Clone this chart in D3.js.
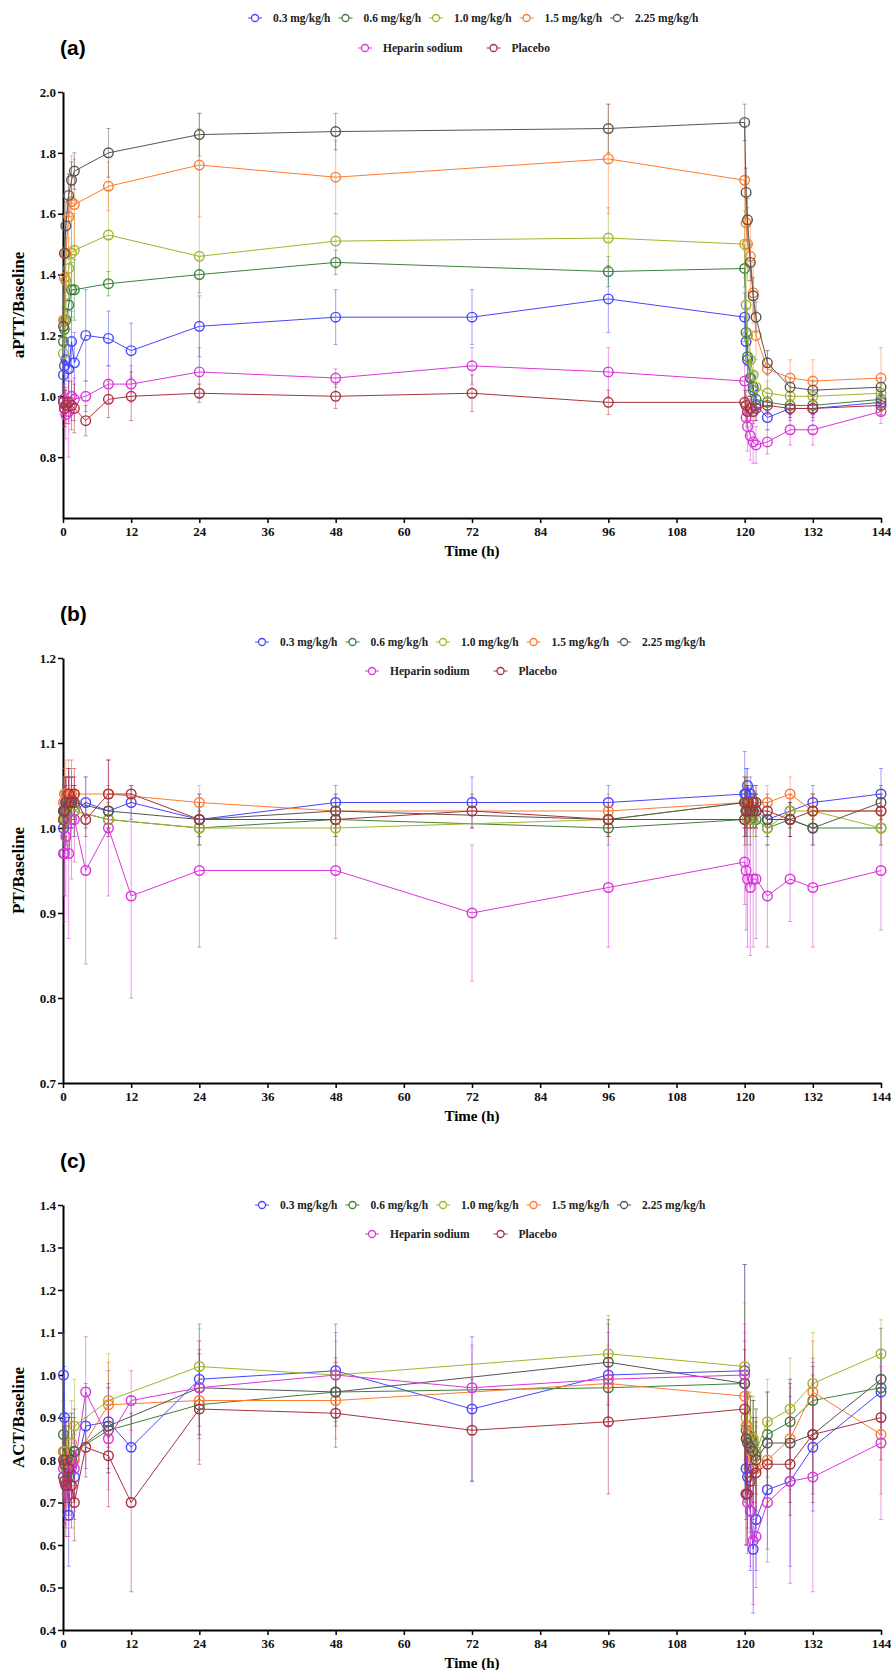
<!DOCTYPE html>
<html>
<head>
<meta charset="utf-8">
<script src="https://cdn.jsdelivr.net/npm/d3@7"></script>
<style>
  body { margin: 0; background: #fff; }
  text { font-family: "Liberation Serif", "Times New Roman", serif; font-weight: bold; }
</style>
</head>
<body>
<script>
// sampling times (h)
const times = [0.083, 0.25, 0.5, 1, 1.5, 2, 4, 8, 12, 24, 48, 72, 96, 120, 120.25, 120.5, 121, 121.5, 122, 124, 128, 132, 144];
const xTicks = [0, 12, 24, 36, 48, 60, 72, 84, 96, 108, 120, 132, 144];

const seriesNames = ["0.3 mg/kg/h", "0.6 mg/kg/h", "1.0 mg/kg/h", "1.5 mg/kg/h", "2.25 mg/kg/h", "Heparin sodium", "Placebo"];
const seriesColors = ["#4646ff", "#3c803c", "#a2b52a", "#ff7a2e", "#555555", "#d936d9", "#a8323c"];

// (a) aPTT / baseline
const aptt03 = [1.07, 1.10, 1.12, 1.09, 1.18, 1.11, 1.20, 1.19, 1.15, 1.23, 1.26, 1.26, 1.32, 1.26, 1.18, 1.12, 1.06, 1.03, 0.97, 0.93, 0.96, 0.96, 0.98];
const aptt06 = [1.18, 1.22, 1.25, 1.30, 1.35, 1.35, null, 1.37, null, 1.40, 1.44, null, 1.41, 1.42, 1.21, 1.13, 1.06, 1.02, 0.99, 0.98, 0.97, 0.97, 0.99];
const aptt10 = [1.14, 1.25, 1.38, 1.42, 1.47, 1.48, null, 1.53, null, 1.46, 1.51, null, 1.52, 1.50, 1.30, 1.20, 1.12, 1.07, 1.03, 1.01, 1.00, 1.00, 1.01];
const aptt15 = [1.25, 1.39, 1.47, 1.59, 1.64, 1.63, null, 1.69, null, 1.76, 1.72, null, 1.78, 1.71, 1.57, 1.50, 1.46, 1.34, 1.20, 1.09, 1.06, 1.05, 1.06];
const aptt225 = [1.23, 1.47, 1.56, 1.66, 1.71, 1.74, null, 1.80, null, 1.86, 1.87, null, 1.88, 1.90, 1.67, 1.58, 1.44, 1.33, 1.26, 1.11, 1.03, 1.02, 1.03];
const apttHep = [0.99, 0.96, 0.94, 0.95, 1.00, 0.99, 1.00, 1.04, 1.04, 1.08, 1.06, 1.10, 1.08, 1.05, 0.93, 0.90, 0.87, 0.85, 0.84, 0.85, 0.89, 0.89, 0.95];
const apttPla = [0.98, 0.96, 0.97, 0.98, 0.97, 0.96, 0.92, 0.99, 1.00, 1.01, 1.00, 1.01, 0.98, 0.98, 0.97, 0.95, 0.96, 0.95, 0.96, 0.97, 0.96, 0.96, 0.97];

const aptt03Sd = [0.05, 0.06, 0.07, 0.08, 0.10, 0.10, 0.15, 0.09, 0.09, 0.10, 0.09, 0.09, 0.11, 0.08, 0.08, 0.07, 0.06, 0.05, 0.05, 0.04, 0.04, 0.04, 0.03];
const aptt06Sd = [0.05, 0.06, 0.07, 0.08, 0.09, 0.10, null, 0.04, null, 0.06, 0.04, null, 0.05, 0.06, 0.08, 0.07, 0.06, 0.05, 0.04, 0.03, 0.03, 0.03, 0.03];
const aptt10Sd = [0.06, 0.08, 0.10, 0.10, 0.12, 0.12, null, 0.15, null, 0.42, 0.09, null, 0.10, 0.11, 0.10, 0.09, 0.08, 0.06, 0.05, 0.04, 0.03, 0.03, 0.03];
const aptt15Sd = [0.08, 0.10, 0.12, 0.14, 0.15, 0.15, null, 0.08, null, 0.17, 0.12, null, 0.18, 0.20, 0.15, 0.12, 0.12, 0.10, 0.08, 0.06, 0.06, 0.07, 0.10];
const aptt225Sd = [0.06, 0.08, 0.08, 0.07, 0.06, 0.06, null, 0.08, null, 0.07, 0.06, null, 0.08, 0.06, 0.08, 0.07, 0.06, 0.06, 0.05, 0.04, 0.03, 0.03, 0.03];
const apttHepSd = [0.05, 0.06, 0.08, 0.15, 0.08, 0.07, 0.05, 0.06, 0.06, 0.08, 0.03, 0.06, 0.08, 0.06, 0.06, 0.08, 0.08, 0.07, 0.06, 0.04, 0.05, 0.05, 0.04];
const apttPlaSd = [0.05, 0.06, 0.06, 0.07, 0.08, 0.08, 0.05, 0.06, 0.08, 0.03, 0.04, 0.06, 0.04, 0.04, 0.05, 0.05, 0.04, 0.04, 0.04, 0.03, 0.03, 0.03, 0.03];

// (b) PT / baseline
const pt03 = [1.00, 1.02, 1.03, 1.04, 1.03, 1.02, 1.03, 1.02, 1.03, 1.01, 1.03, 1.03, 1.03, 1.04, 1.04, 1.05, 1.04, 1.03, 1.02, 1.01, 1.02, 1.03, 1.04];
const pt06 = [1.02, 1.01, 1.02, 1.03, 1.03, 1.02, null, 1.01, null, 1.00, 1.01, null, 1.00, 1.01, 1.02, 1.02, 1.01, 1.02, 1.01, 1.00, 1.01, 1.00, 1.00];
const pt10 = [1.01, 1.01, 1.01, 1.02, 1.03, 1.02, null, 1.01, null, 1.00, 1.00, null, 1.01, 1.03, 1.02, 1.01, 1.02, 1.01, 1.02, 1.00, 1.02, 1.02, 1.00];
const pt15 = [1.03, 1.04, 1.04, 1.04, 1.04, 1.04, null, 1.04, null, 1.03, 1.02, null, 1.02, 1.03, 1.03, 1.03, 1.02, 1.03, 1.03, 1.03, 1.04, 1.02, 1.02];
const pt225 = [1.02, 1.02, 1.03, 1.03, 1.03, 1.03, null, 1.02, null, 1.01, 1.02, null, 1.01, 1.03, 1.02, 1.03, 1.02, 1.02, 1.03, 1.01, 1.01, 1.00, 1.03];
const ptHep = [0.97, 0.97, 0.99, 0.97, 1.01, 1.01, 0.95, 1.00, 0.92, 0.95, 0.95, 0.90, 0.93, 0.96, 0.95, 0.94, 0.93, 0.94, 0.94, 0.92, 0.94, 0.93, 0.95];
const ptPla = [1.01, 1.02, 1.03, 1.04, 1.03, 1.04, 1.01, 1.04, 1.04, 1.01, 1.01, 1.02, 1.01, 1.01, 1.02, 1.03, 1.02, 1.03, 1.02, 1.02, 1.01, 1.02, 1.02];

const pt03Sd = [0.02, 0.03, 0.03, 0.03, 0.03, 0.03, 0.03, 0.03, 0.02, 0.03, 0.02, 0.03, 0.02, 0.05, 0.03, 0.02, 0.02, 0.02, 0.02, 0.02, 0.02, 0.02, 0.03];
const pt06Sd = [0.02, 0.03, 0.03, 0.03, 0.03, 0.03, null, 0.02, null, 0.02, 0.02, null, 0.02, 0.03, 0.03, 0.03, 0.03, 0.02, 0.02, 0.02, 0.02, 0.02, 0.02];
const pt10Sd = [0.02, 0.03, 0.04, 0.04, 0.03, 0.03, null, 0.02, null, 0.02, 0.02, null, 0.02, 0.03, 0.04, 0.03, 0.03, 0.02, 0.02, 0.02, 0.02, 0.02, 0.02];
const pt15Sd = [0.03, 0.03, 0.04, 0.04, 0.03, 0.02, null, 0.04, null, 0.02, 0.02, null, 0.02, 0.03, 0.03, 0.03, 0.02, 0.02, 0.02, 0.02, 0.02, 0.02, 0.02];
const pt225Sd = [0.02, 0.03, 0.03, 0.03, 0.02, 0.02, null, 0.02, null, 0.02, 0.02, null, 0.02, 0.03, 0.03, 0.02, 0.02, 0.02, 0.02, 0.02, 0.02, 0.02, 0.02];
const ptHepSd = [0.05, 0.08, 0.07, 0.10, 0.07, 0.05, 0.11, 0.08, 0.12, 0.09, 0.08, 0.08, 0.07, 0.05, 0.07, 0.08, 0.08, 0.08, 0.07, 0.06, 0.05, 0.07, 0.07];
const ptPlaSd = [0.02, 0.03, 0.03, 0.03, 0.03, 0.03, 0.02, 0.04, 0.01, 0.02, 0.02, 0.02, 0.02, 0.02, 0.02, 0.02, 0.02, 0.02, 0.02, 0.02, 0.02, 0.02, 0.02];

// (c) ACT / baseline
const act03 = [1.00, 0.90, 0.79, 0.67, 0.81, 0.76, 0.88, 0.89, 0.83, 0.99, 1.01, 0.92, 1.00, 1.01, 0.78, 0.76, 0.68, 0.59, 0.66, 0.73, 0.75, 0.83, 0.96];
const act06 = [0.86, 0.82, 0.79, 0.76, 0.81, 0.82, null, 0.87, null, 0.93, 0.96, null, 0.97, 0.98, 0.87, 0.86, 0.85, 0.84, 0.81, 0.86, 0.89, 0.94, 0.97];
const act10 = [0.82, 0.80, 0.78, 0.80, 0.84, 0.88, null, 0.94, null, 1.02, 1.00, null, 1.05, 1.02, 0.90, 0.88, 0.86, 0.85, 0.82, 0.89, 0.92, 0.98, 1.05];
const act15 = [0.82, 0.80, 0.79, 0.80, 0.79, 0.80, null, 0.93, null, 0.94, 0.94, null, 0.98, 0.95, 0.88, 0.85, 0.82, 0.80, 0.78, 0.80, 0.85, 0.96, 0.86];
const act225 = [0.76, 0.79, 0.80, 0.78, 0.80, 0.82, null, 0.88, null, 0.97, 0.96, null, 1.03, 0.98, 0.85, 0.84, 0.83, 0.82, 0.80, 0.84, 0.84, 0.86, 0.99];
const actHep = [0.78, 0.75, 0.74, 0.72, 0.79, 0.78, 0.96, 0.85, 0.94, 0.97, 1.00, 0.97, 0.99, 1.00, 0.72, 0.70, 0.68, 0.61, 0.62, 0.70, 0.75, 0.76, 0.84];
const actPla = [0.80, 0.75, 0.74, 0.78, 0.74, 0.70, 0.83, 0.81, 0.70, 0.92, 0.91, 0.87, 0.89, 0.92, 0.72, 0.72, 0.75, 0.78, 0.77, 0.79, 0.79, 0.86, 0.90];

const act03Sd = [0.10, 0.12, 0.12, 0.12, 0.10, 0.10, 0.10, 0.12, 0.12, 0.13, 0.11, 0.17, 0.12, 0.25, 0.12, 0.12, 0.14, 0.15, 0.12, 0.14, 0.20, 0.15, 0.10];
const act06Sd = [0.08, 0.09, 0.09, 0.09, 0.08, 0.08, null, 0.10, null, 0.08, 0.07, null, 0.08, 0.10, 0.09, 0.09, 0.10, 0.10, 0.09, 0.10, 0.10, 0.10, 0.08];
const act10Sd = [0.08, 0.09, 0.10, 0.10, 0.10, 0.11, null, 0.11, null, 0.09, 0.08, null, 0.09, 0.15, 0.12, 0.10, 0.10, 0.10, 0.10, 0.10, 0.12, 0.12, 0.08];
const act15Sd = [0.08, 0.09, 0.10, 0.10, 0.10, 0.10, null, 0.10, null, 0.14, 0.09, null, 0.09, 0.15, 0.12, 0.11, 0.10, 0.10, 0.10, 0.10, 0.12, 0.12, 0.14];
const act225Sd = [0.08, 0.09, 0.10, 0.10, 0.10, 0.10, null, 0.10, null, 0.09, 0.08, null, 0.10, 0.28, 0.14, 0.12, 0.12, 0.12, 0.12, 0.12, 0.14, 0.16, 0.12];
const actHepSd = [0.08, 0.10, 0.10, 0.10, 0.12, 0.10, 0.13, 0.12, 0.07, 0.11, 0.10, 0.10, 0.11, 0.12, 0.12, 0.12, 0.13, 0.15, 0.12, 0.14, 0.24, 0.27, 0.18];
const actPlaSd = [0.08, 0.10, 0.12, 0.12, 0.10, 0.09, 0.07, 0.12, 0.21, 0.13, 0.08, 0.12, 0.17, 0.14, 0.12, 0.12, 0.12, 0.12, 0.12, 0.10, 0.12, 0.14, 0.10];

const svg = d3.select("body").append("svg").attr("width", 891).attr("height", 1670);

const x = d3.scaleLinear().domain([0, 144]).range([63, 881]);

function drawPanel(p) {
  const y = d3.scaleLinear().domain(p.domain).range([p.bottom, p.top]);
  const g = svg.append("g");

  // panel letter
  g.append("text")
    .attr("x", 60).attr("y", p.top - 37)
    .style("font-family", "'Liberation Sans', Arial, sans-serif")
    .style("font-size", "21px")
    .text(p.letter);

  // legend
  drawLegend(g, p.legendY[0], 248 + p.legendDx, [0, 1, 2, 3, 4]);
  drawLegend(g, p.legendY[1], 358 + p.legendDx, [5, 6]);

  // axes
  const yAxis = g.append("g")
    .attr("transform", `translate(${x(0)},0)`)
    .call(d3.axisLeft(y).tickValues(p.ticks).tickFormat(d3.format(".1f")).tickSize(5).tickSizeOuter(0).tickPadding(2));
  const xAxis = g.append("g")
    .attr("transform", `translate(0,${p.bottom})`)
    .call(d3.axisBottom(x).tickValues(xTicks).tickSize(5).tickSizeOuter(0).tickPadding(4));
  [yAxis, xAxis].forEach(a => {
    a.select(".domain").attr("stroke-width", 2);
    a.selectAll(".tick line").attr("stroke-width", 1.5);
    a.selectAll(".tick text")
      .style("font-family", "'Liberation Serif', 'Times New Roman', serif")
      .style("font-weight", "bold")
      .style("font-size", "13px")
      .attr("fill", "#111");
  });

  g.append("text")
    .attr("transform", `translate(24,${(p.top + p.bottom) / 2}) rotate(-90)`)
    .attr("text-anchor", "middle")
    .style("font-size", "17px")
    .text(p.yLabel);

  g.append("text")
    .attr("x", (x(0) + x(144)) / 2).attr("y", p.bottom + 38)
    .attr("text-anchor", "middle")
    .style("font-size", "15px")
    .text("Time (h)");

  // error bars
  p.means.forEach((m, si) => {
    const col = seriesColors[si];
    const pts = times.map((t, i) => ({ t, v: m[i], sd: p.sds[si][i] })).filter(d => d.v != null);
    const sg = g.append("g");

    sg.selectAll("line.err").data(pts).join("line")
      .attr("x1", d => x(d.t)).attr("x2", d => x(d.t))
      .attr("y1", d => y(d.v - d.sd)).attr("y2", d => y(d.v + d.sd))
      .attr("stroke", col).attr("stroke-opacity", 0.5).attr("stroke-width", 1);
    sg.selectAll("line.capTop").data(pts).join("line")
      .attr("x1", d => x(d.t) - 2).attr("x2", d => x(d.t) + 2)
      .attr("y1", d => y(d.v + d.sd)).attr("y2", d => y(d.v + d.sd))
      .attr("stroke", col).attr("stroke-opacity", 0.5);
    sg.selectAll("line.capBot").data(pts).join("line")
      .attr("x1", d => x(d.t) - 2).attr("x2", d => x(d.t) + 2)
      .attr("y1", d => y(d.v - d.sd)).attr("y2", d => y(d.v - d.sd))
      .attr("stroke", col).attr("stroke-opacity", 0.5);
  });

  // lines + open circles
  p.means.forEach((m, si) => {
    const col = seriesColors[si];
    const pts = times.map((t, i) => ({ t, v: m[i] })).filter(d => d.v != null);
    g.append("path")
      .datum(pts)
      .attr("fill", "none")
      .attr("stroke", col)
      .attr("stroke-width", 1)
      .attr("d", d3.line().x(d => x(d.t)).y(d => y(d.v)));
    g.append("g").selectAll("circle").data(pts).join("circle")
      .attr("cx", d => x(d.t)).attr("cy", d => y(d.v))
      .attr("r", 4.8)
      .attr("fill", "none")
      .attr("stroke", col)
      .attr("stroke-width", 1.4);
  });
}

function drawLegend(g, yy, startX, idx) {
  let cx = startX;
  idx.forEach(i => {
    const col = seriesColors[i];
    g.append("line")
      .attr("x1", cx).attr("x2", cx + 14).attr("y1", yy).attr("y2", yy)
      .attr("stroke", col).attr("stroke-width", 1);
    g.append("circle")
      .attr("cx", cx + 7).attr("cy", yy).attr("r", 3.5)
      .attr("fill", "white").attr("stroke", col).attr("stroke-width", 1.3);
    const t = g.append("text")
      .attr("x", cx + 25).attr("y", yy + 4)
      .style("font-size", "11.5px")
      .attr("fill", "#222")
      .text(seriesNames[i]);
    cx = cx + 25 + t.node().getComputedTextLength() + (i >= 5 ? 24 : 8);
  });
}

drawPanel({
  letter: "(a)", yLabel: "aPTT/Baseline",
  top: 92, bottom: 518, domain: [0.6, 2.0],
  ticks: [0.8, 1.0, 1.2, 1.4, 1.6, 1.8, 2.0],
  legendY: [18, 48], legendDx: 0,
  means: [aptt03, aptt06, aptt10, aptt15, aptt225, apttHep, apttPla],
  sds: [aptt03Sd, aptt06Sd, aptt10Sd, aptt15Sd, aptt225Sd, apttHepSd, apttPlaSd]
});

drawPanel({
  letter: "(b)", yLabel: "PT/Baseline",
  top: 658, bottom: 1083, domain: [0.7, 1.2],
  ticks: [0.7, 0.8, 0.9, 1.0, 1.1, 1.2],
  legendY: [642, 671], legendDx: 7,
  means: [pt03, pt06, pt10, pt15, pt225, ptHep, ptPla],
  sds: [pt03Sd, pt06Sd, pt10Sd, pt15Sd, pt225Sd, ptHepSd, ptPlaSd]
});

drawPanel({
  letter: "(c)", yLabel: "ACT/Baseline",
  top: 1205, bottom: 1630, domain: [0.4, 1.4],
  ticks: [0.4, 0.5, 0.6, 0.7, 0.8, 0.9, 1.0, 1.1, 1.2, 1.3, 1.4],
  legendY: [1205, 1234], legendDx: 7,
  means: [act03, act06, act10, act15, act225, actHep, actPla],
  sds: [act03Sd, act06Sd, act10Sd, act15Sd, act225Sd, actHepSd, actPlaSd]
});
</script>
</body>
</html>
